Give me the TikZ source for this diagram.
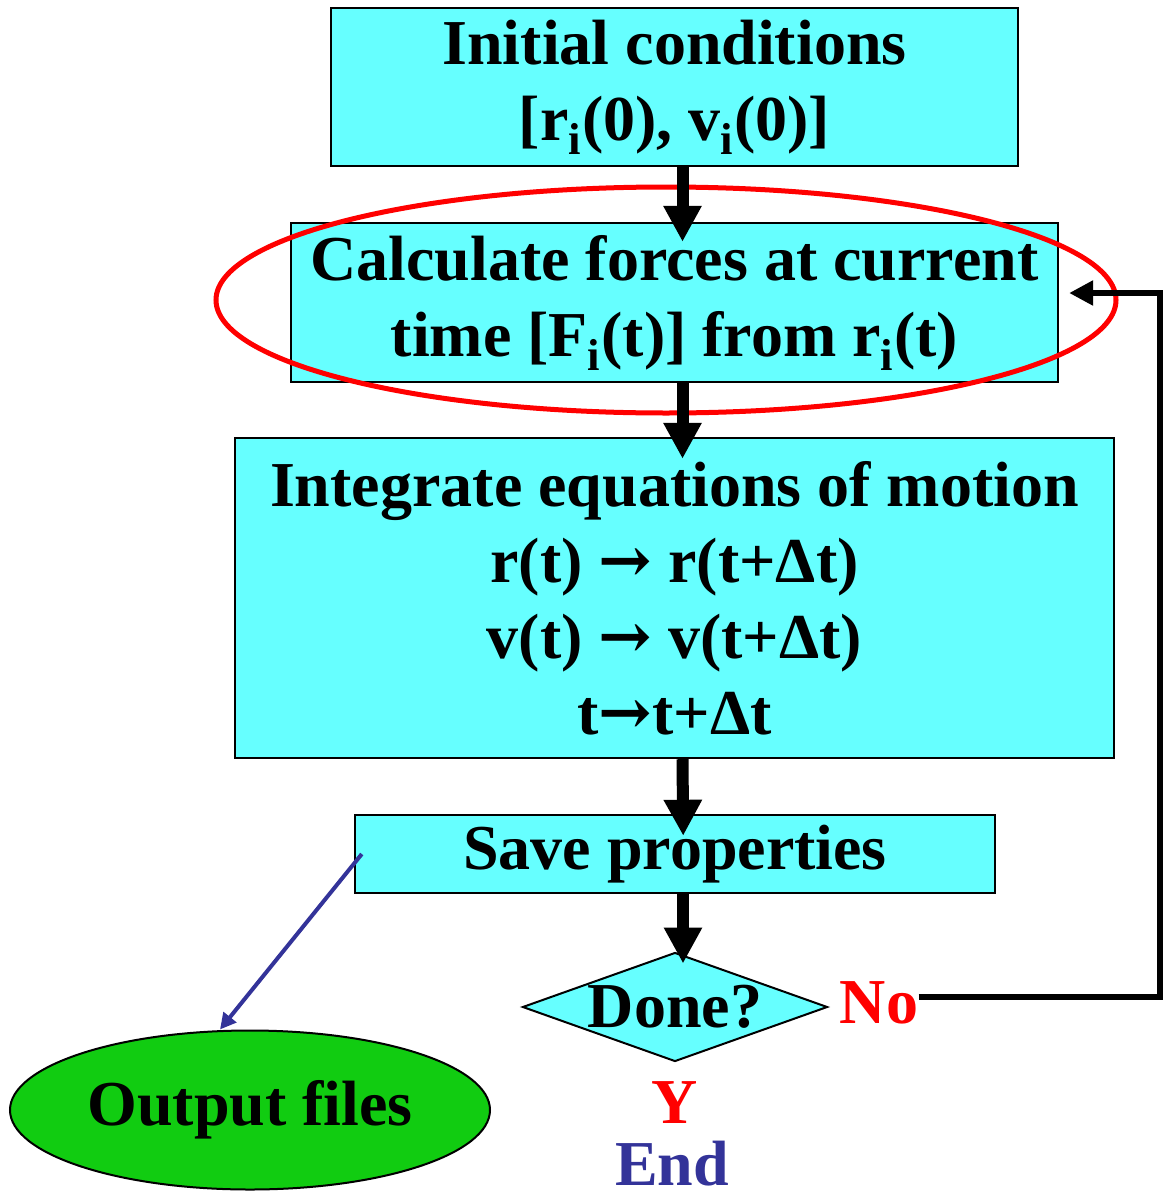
\documentclass[tikz,border=0pt]{standalone}
\usepackage{fontspec}
\setmainfont{Liberation Serif}
\newfontfamily\arrowfont{DejaVu Serif}
\usetikzlibrary{arrows.meta,positioning,shapes.geometric}
\definecolor{ink}{RGB}{0,0,0}
\definecolor{aqua}{RGB}{102,255,255}
\definecolor{leaf}{RGB}{17,204,17}
\definecolor{alarm}{RGB}{255,0,0}
\definecolor{navy}{RGB}{51,51,153}
\newcommand{\goesto}{{\arrowfont\bfseries →}}
\tikzset{
  every picture/.style={color=ink, font=\fontsize{32}{38}\selectfont\bfseries},
  box/.style={draw=ink, fill=aqua, line width=1.2pt, align=center, inner sep=0pt},
  choice/.style={diamond, draw=ink, fill=aqua, line width=1pt, inner sep=0pt, minimum width=152.5pt, minimum height=54.5pt},
  store/.style={ellipse, draw=ink, fill=leaf, line width=1pt, inner sep=0pt, minimum width=240pt, minimum height=79.5pt},
  ring/.style={ellipse, draw=alarm, line width=2.5pt, minimum width=450pt, minimum height=113pt},
  tag/.style={inner sep=0pt},
  flow/.style={-{Triangle[length=18pt,width=18pt]}, line width=6pt, shorten >=-11pt},
  back/.style={-{Triangle[length=12pt,width=12pt]}, line width=2.8pt, shorten >=5pt},
  dump/.style={-{Triangle[length=8pt,width=8pt]}, line width=2pt, color=navy},
}

\begin{document}
\begin{tikzpicture}[x=0.5pt, y=-0.5pt]
  \useasboundingbox (0,0) rectangle (1163,1199);
  \node[box, minimum width=343.5pt, minimum height=79pt] (init) at (674.5,87) {Initial conditions\\ {[}r\textsubscript{i}(0), v\textsubscript{i}(0){]}};
  \node[box, minimum width=383.5pt, minimum height=79.5pt] (forces) at (674.5,302.5) {Calculate forces at current\\ time [F\textsubscript{i}(t)] from r\textsubscript{i}(t)};
  \node[box, minimum width=439.5pt, minimum height=160pt] (step) at (674.5,598) {Integrate equations of motion\\ r(t) \goesto{} r(t+Δt)\\ v(t) \goesto{} v(t+Δt)\\ t\goesto{}t+Δt};
  \node[box, minimum width=320pt, minimum height=39pt] (save) at (675,854) {Save properties};
  \node[choice, label={center:Done?}] (done) at (675,1007) {};
  \node[store] (output) at (250,1110) {Output files};
  \node[ring] (mark) at (666,300) {};
  \node[tag, text=alarm] (no) at (879,1003) {No};
  \node[tag, text=alarm] (yes) at (675,1103) {Y};
  \node[tag, text=navy] (end) at (672,1164) {End};
  \coordinate (ret) at (1160,293);
  \draw[flow, shorten >=-10pt] ([xshift=4pt]init.south) -- ([xshift=4pt]forces.north);
  \draw[flow] ([xshift=4pt]forces.south) -- ([xshift=4pt]step.north);
  \draw[flow] ([xshift=4pt]step.south) -- ([xshift=4pt]save.north);
  \draw[flow, shorten >=-6pt] ([xshift=4pt]save.south) -- ([xshift=4pt]done.north);
  \draw[back] ([yshift=3pt]no.east) -| (ret) -- (forces.east |- ret);
  \draw[dump] ([xshift=4pt]save.west) -- ([xshift=-15pt]output.north);
\end{tikzpicture}
\end{document}
